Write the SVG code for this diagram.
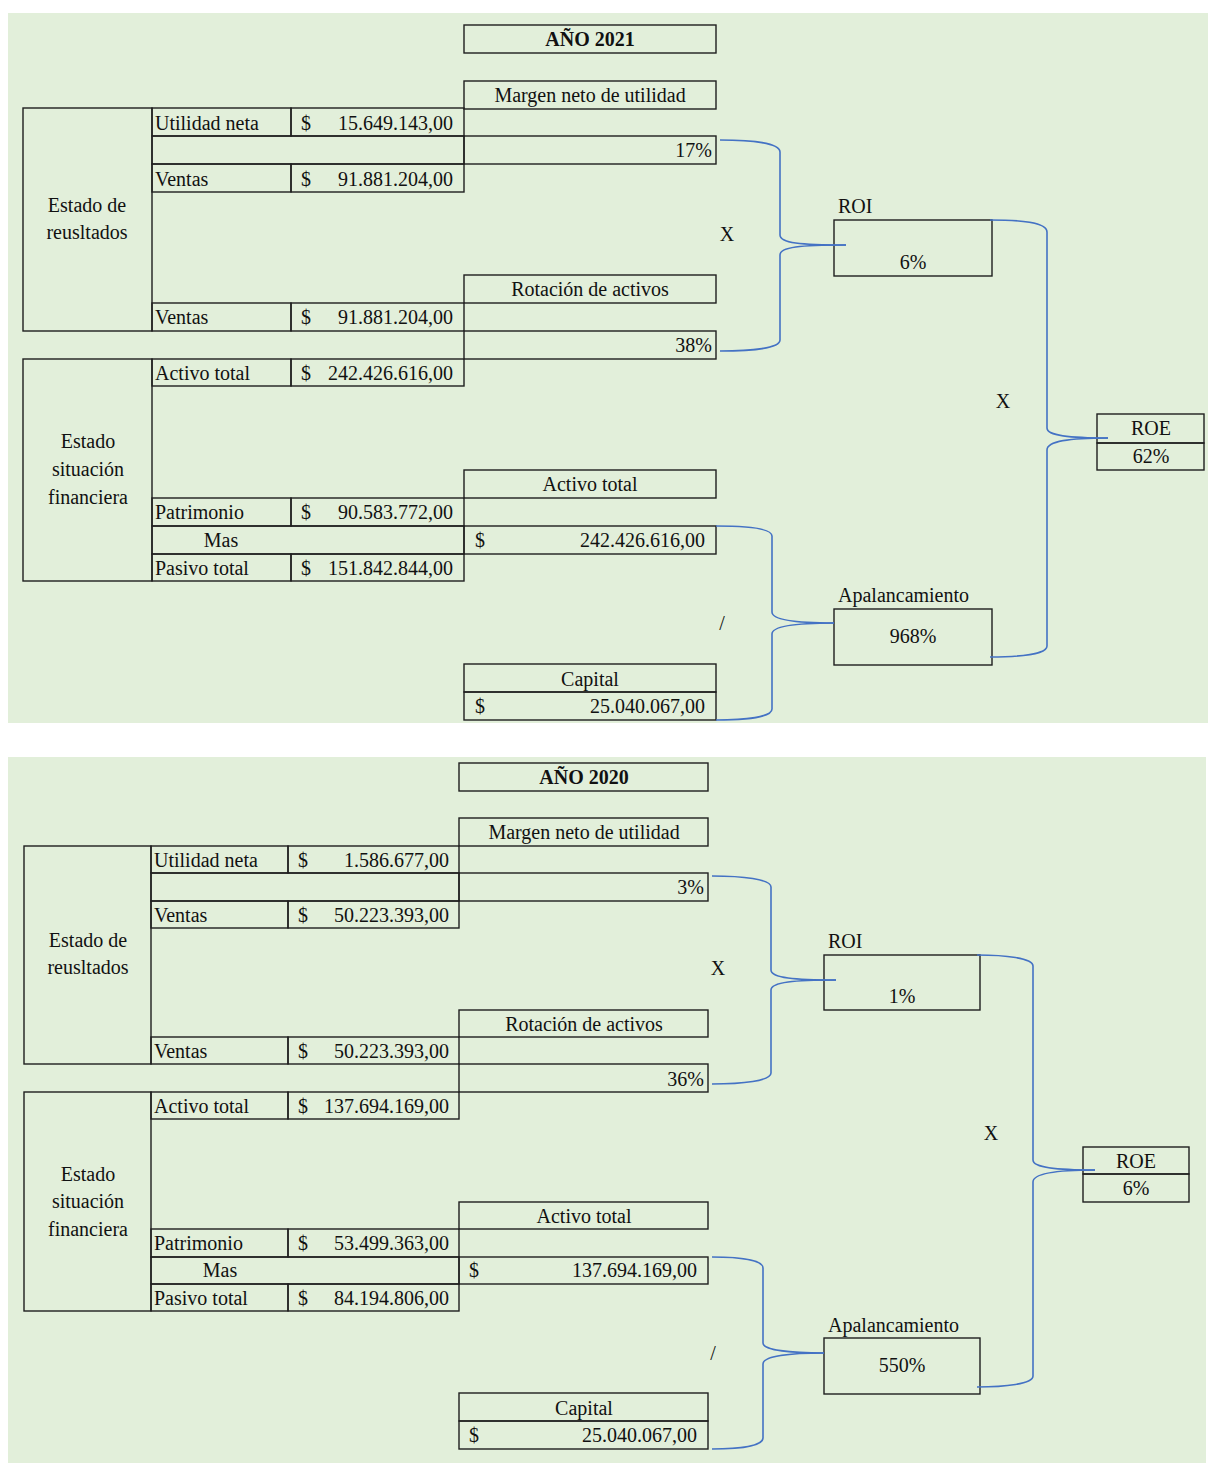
<svg xmlns="http://www.w3.org/2000/svg" width="1208" height="1463" viewBox="0 0 1208 1463">
<style>
.bg{fill:#e2efda}
.c{fill:none;stroke:#1f1f1f;stroke-width:1.4}
.t{font-family:"Liberation Serif","Times New Roman",serif;font-size:20px;fill:#111}
.b{font-weight:bold}
.m{text-anchor:middle}
.r{text-anchor:end}
.k{fill:none;stroke:#4472c4;stroke-width:1.6}
</style>
<rect width="1208" height="1463" fill="#ffffff"/>
<rect class="bg" x="8" y="13" width="1200" height="710"/>
<rect class="bg" x="8" y="757" width="1198" height="706"/>

<!-- ===== 2021 ===== -->
<g id="title2021"><rect class="c" x="464" y="25" width="252" height="28"/><text class="t b m" x="590" y="46">AÑO 2021</text></g>
<g id="margen2021"><rect class="c" x="464" y="81" width="252" height="28"/><text class="t m" x="590" y="102">Margen neto de utilidad</text>
<rect class="c" x="464" y="136" width="252" height="28"/><text class="t r" x="712" y="157">17%</text></g>
<g id="er2021">
<rect class="c" x="23" y="108" width="129" height="223"/>
<text class="t m" x="87" y="212">Estado de</text><text class="t m" x="87" y="239">reusltados</text>
<rect class="c" x="152" y="108" width="139" height="28"/><rect class="c" x="291" y="108" width="173" height="28"/>
<text class="t" x="155" y="130">Utilidad neta</text><text class="t" x="301" y="130">$</text><text class="t r" x="453" y="130">15.649.143,00</text>
<rect class="c" x="152" y="136" width="312" height="28"/>
<rect class="c" x="152" y="164" width="139" height="28"/><rect class="c" x="291" y="164" width="173" height="28"/>
<text class="t" x="155" y="186">Ventas</text><text class="t" x="301" y="186">$</text><text class="t r" x="453" y="186">91.881.204,00</text>
<rect class="c" x="152" y="303" width="139" height="28"/><rect class="c" x="291" y="303" width="173" height="28"/>
<text class="t" x="155" y="324">Ventas</text><text class="t" x="301" y="324">$</text><text class="t r" x="453" y="324">91.881.204,00</text>
</g>
<g id="rotacion2021"><rect class="c" x="464" y="275" width="252" height="28"/><text class="t m" x="590" y="296">Rotación de activos</text>
<rect class="c" x="464" y="331" width="252" height="28"/><text class="t r" x="712" y="352">38%</text></g>
<g id="esf2021">
<rect class="c" x="23" y="359" width="129" height="222"/>
<text class="t m" x="88" y="448">Estado</text><text class="t m" x="88" y="476">situación</text><text class="t m" x="88" y="504">financiera</text>
<rect class="c" x="152" y="359" width="139" height="27"/><rect class="c" x="291" y="359" width="173" height="27"/>
<text class="t" x="155" y="380">Activo total</text><text class="t" x="301" y="380">$</text><text class="t r" x="453" y="380">242.426.616,00</text>
<rect class="c" x="152" y="498" width="139" height="28"/><rect class="c" x="291" y="498" width="173" height="28"/>
<text class="t" x="155" y="519">Patrimonio</text><text class="t" x="301" y="519">$</text><text class="t r" x="453" y="519">90.583.772,00</text>
<rect class="c" x="152" y="526" width="312" height="28"/><text class="t m" x="221" y="547">Mas</text>
<rect class="c" x="152" y="554" width="139" height="27"/><rect class="c" x="291" y="554" width="173" height="27"/>
<text class="t" x="155" y="575">Pasivo total</text><text class="t" x="301" y="575">$</text><text class="t r" x="453" y="575">151.842.844,00</text>
</g>
<g id="activo2021"><rect class="c" x="464" y="470" width="252" height="28"/><text class="t m" x="590" y="491">Activo total</text>
<rect class="c" x="464" y="526" width="252" height="28"/><text class="t" x="475" y="547">$</text><text class="t r" x="705" y="547">242.426.616,00</text></g>
<g id="capital2021"><rect class="c" x="464" y="664" width="252" height="28"/><text class="t m" x="590" y="686">Capital</text>
<rect class="c" x="464" y="692" width="252" height="28"/><text class="t" x="475" y="713">$</text><text class="t r" x="705" y="713">25.040.067,00</text></g>
<g id="roi2021"><text class="t" x="838" y="213">ROI</text><rect class="c" x="834" y="220" width="158" height="56"/><text class="t m" x="913" y="269">6%</text></g>
<g id="apal2021"><text class="t" x="838" y="602">Apalancamiento</text><rect class="c" x="834" y="609" width="158" height="56"/><text class="t m" x="913" y="643">968%</text></g>
<g id="roe2021"><rect class="c" x="1097" y="414" width="107" height="29"/><rect class="c" x="1097" y="443" width="107" height="27"/>
<text class="t m" x="1151" y="435">ROE</text><text class="t m" x="1151" y="463">62%</text></g>
<g id="ops2021"><text class="t m" x="727" y="241">X</text><text class="t m" x="1003" y="408">X</text><text class="t m" x="722" y="630">/</text></g>

<!-- ===== 2020 ===== -->
<g id="title2020"><rect class="c" x="459" y="763" width="249" height="28"/><text class="t b m" x="584" y="784">AÑO 2020</text></g>
<g id="margen2020"><rect class="c" x="459" y="818" width="249" height="28"/><text class="t m" x="584" y="839">Margen neto de utilidad</text>
<rect class="c" x="459" y="873" width="249" height="28"/><text class="t r" x="704" y="894">3%</text></g>
<g id="er2020">
<rect class="c" x="24" y="846" width="127" height="218"/>
<text class="t m" x="88" y="947">Estado de</text><text class="t m" x="88" y="974">reusltados</text>
<rect class="c" x="151" y="846" width="137" height="27"/><rect class="c" x="288" y="846" width="171" height="27"/>
<text class="t" x="154" y="867">Utilidad neta</text><text class="t" x="298" y="867">$</text><text class="t r" x="449" y="867">1.586.677,00</text>
<rect class="c" x="151" y="873" width="308" height="28"/>
<rect class="c" x="151" y="901" width="137" height="27"/><rect class="c" x="288" y="901" width="171" height="27"/>
<text class="t" x="154" y="922">Ventas</text><text class="t" x="298" y="922">$</text><text class="t r" x="449" y="922">50.223.393,00</text>
<rect class="c" x="151" y="1037" width="137" height="27"/><rect class="c" x="288" y="1037" width="171" height="27"/>
<text class="t" x="154" y="1058">Ventas</text><text class="t" x="298" y="1058">$</text><text class="t r" x="449" y="1058">50.223.393,00</text>
</g>
<g id="rotacion2020"><rect class="c" x="459" y="1010" width="249" height="27"/><text class="t m" x="584" y="1031">Rotación de activos</text>
<rect class="c" x="459" y="1064" width="249" height="28"/><text class="t r" x="704" y="1086">36%</text></g>
<g id="esf2020">
<rect class="c" x="24" y="1092" width="127" height="219"/>
<text class="t m" x="88" y="1181">Estado</text><text class="t m" x="88" y="1208">situación</text><text class="t m" x="88" y="1236">financiera</text>
<rect class="c" x="151" y="1092" width="137" height="27"/><rect class="c" x="288" y="1092" width="171" height="27"/>
<text class="t" x="154" y="1113">Activo total</text><text class="t" x="298" y="1113">$</text><text class="t r" x="449" y="1113">137.694.169,00</text>
<rect class="c" x="151" y="1229" width="137" height="28"/><rect class="c" x="288" y="1229" width="171" height="28"/>
<text class="t" x="154" y="1250">Patrimonio</text><text class="t" x="298" y="1250">$</text><text class="t r" x="449" y="1250">53.499.363,00</text>
<rect class="c" x="151" y="1257" width="308" height="27"/><text class="t m" x="220" y="1277">Mas</text>
<rect class="c" x="151" y="1284" width="137" height="27"/><rect class="c" x="288" y="1284" width="171" height="27"/>
<text class="t" x="154" y="1305">Pasivo total</text><text class="t" x="298" y="1305">$</text><text class="t r" x="449" y="1305">84.194.806,00</text>
</g>
<g id="activo2020"><rect class="c" x="459" y="1202" width="249" height="27"/><text class="t m" x="584" y="1223">Activo total</text>
<rect class="c" x="459" y="1257" width="249" height="27"/><text class="t" x="469" y="1277">$</text><text class="t r" x="697" y="1277">137.694.169,00</text></g>
<g id="capital2020"><rect class="c" x="459" y="1393" width="249" height="28"/><text class="t m" x="584" y="1415">Capital</text>
<rect class="c" x="459" y="1421" width="249" height="28"/><text class="t" x="469" y="1442">$</text><text class="t r" x="697" y="1442">25.040.067,00</text></g>
<g id="roi2020"><text class="t" x="828" y="948">ROI</text><rect class="c" x="824" y="955" width="156" height="55"/><text class="t m" x="902" y="1003">1%</text></g>
<g id="apal2020"><text class="t" x="828" y="1332">Apalancamiento</text><rect class="c" x="824" y="1338" width="156" height="56"/><text class="t m" x="902" y="1372">550%</text></g>
<g id="roe2020"><rect class="c" x="1083" y="1147" width="106" height="27"/><rect class="c" x="1083" y="1174" width="106" height="28"/>
<text class="t m" x="1136" y="1168">ROE</text><text class="t m" x="1136" y="1195">6%</text></g>
<g id="ops2020"><text class="t m" x="718" y="975">X</text><text class="t m" x="991" y="1140">X</text><text class="t m" x="713" y="1360">/</text></g>

<g id="connectors">
<path class="k" d="M720,140 C752,140 780,143 780,152 L780,235 C780,243 800,245 846,245"/>
<path class="k" d="M720,351 C752,351 780,348 780,340 L780,255 C780,247 800,245 846,245"/>
<path class="k" d="M990,220 C1020,220 1047,222 1047,232 L1047,428 C1047,436 1070,438 1108,438"/>
<path class="k" d="M990,657 C1020,657 1047,654 1047,646 L1047,450 C1047,441 1070,438 1108,438"/>
<path class="k" d="M716,526 C745,526 772,528 772,536 L772,612 C772,620 795,623 834,623"/>
<path class="k" d="M716,720 C745,720 772,717 772,709 L772,634 C772,626 795,623 834,623"/>
<path class="k" d="M712,876 C742,876 771,879 771,887 L771,970 C771,978 795,980 836,980"/>
<path class="k" d="M712,1084 C742,1084 771,1081 771,1073 L771,990 C771,982 795,980 836,980"/>
<path class="k" d="M977,955 C1005,955 1033,958 1033,966 L1033,1160 C1033,1168 1058,1170 1095,1170"/>
<path class="k" d="M977,1387 C1005,1387 1033,1384 1033,1376 L1033,1182 C1033,1173 1058,1170 1095,1170"/>
<path class="k" d="M712,1257 C740,1257 763,1260 763,1268 L763,1343 C763,1350 790,1353 824,1353"/>
<path class="k" d="M712,1449 C740,1449 763,1446 763,1438 L763,1364 C763,1356 790,1353 824,1353"/>
</g>
</svg>
